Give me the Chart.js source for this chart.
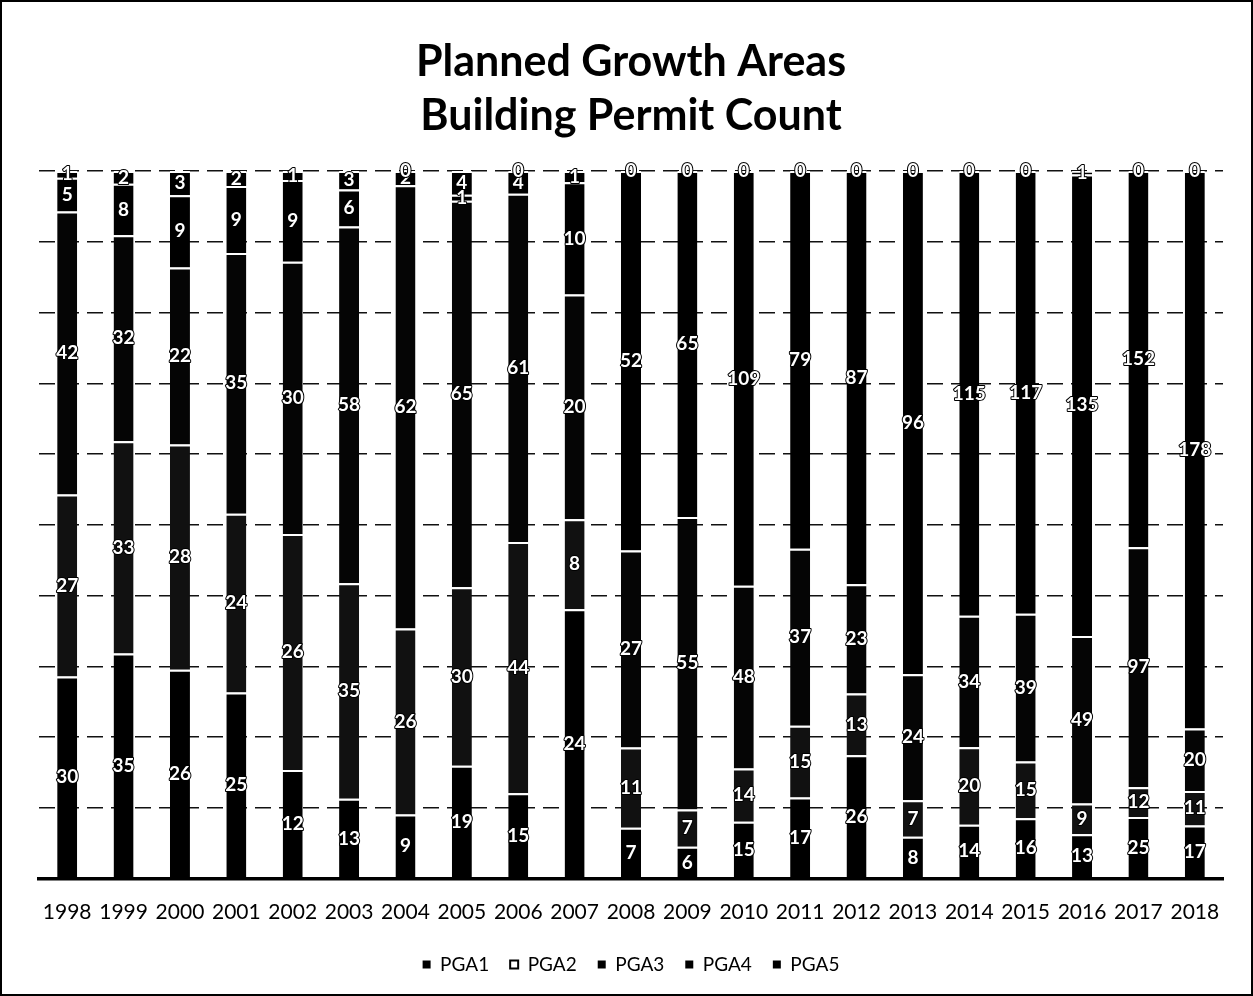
<!DOCTYPE html>
<html>
<head>
<meta charset="utf-8">
<script src="https://cdn.jsdelivr.net/npm/chart.js@4.4.1/dist/chart.umd.min.js"></script>
<style>
  html, body { margin: 0; padding: 0; background: #fff; }
  #c { display: block; }
</style>
</head>
<body>
<canvas id="c" width="1253" height="996"></canvas>
<script>
// ---- Data (building permit counts per planned growth area) ----
const years = ['1998','1999','2000','2001','2002','2003','2004','2005','2006','2007','2008',
               '2009','2010','2011','2012','2013','2014','2015','2016','2017','2018'];
const seriesNames = ['PGA1','PGA2','PGA3','PGA4','PGA5'];
const pga1 = [30, 35, 26, 25, 12, 13,  9, 19, 15, 24,  7,  6,  15, 17, 26,  8,  14,  16,  13,  25,  17];
const pga2 = [27, 33, 28, 24, 26, 35, 26, 30, 44,  8, 11,  7,  14, 15, 13,  7,  20,  15,   9,  12,  11];
const pga3 = [42, 32, 22, 35, 30, 58, 62, 65, 61, 20, 27, 55,  48, 37, 23, 24,  34,  39,  49,  97,  20];
const pga4 = [ 5,  8,  9,  9,  9,  6,  2,  1,  4, 10, 52, 65, 109, 79, 87, 96, 115, 117, 135, 152, 178];
const pga5 = [ 1,  2,  3,  2,  1,  3,  0,  4,  0,  1,  0,  0,   0,  0,  0,  0,   0,   0,   1,   0,   0];

const rawSeries = [pga1, pga2, pga3, pga4, pga5];
const totals = years.map((_, j) => rawSeries.reduce((s, arr) => s + arr[j], 0));
const pctSeries = rawSeries.map(arr => arr.map((v, j) => v / totals[j] * 100));

const fills = ['#000000', '#111111', '#050505', '#000000', '#000000'];
const FONT = 'Lato, "Open Sans", sans-serif';

const datasets = seriesNames.map((name, i) => ({
  label: name,
  data: pctSeries[i],
  rawValues: rawSeries[i],
  backgroundColor: fills[i],
  borderColor: '#ffffff',
  borderWidth: { top: 2, right: 0, bottom: 0, left: 0 },
  borderSkipped: false,
  barPercentage: 0.355,
  categoryPercentage: 1.0
}));

const valueLabels = {
  id: 'valueLabels',
  afterDatasetsDraw(chart) {
    const ctx = chart.ctx;
    ctx.save();
    ctx.font = 'bold 19px ' + FONT;
    ctx.textAlign = 'center';
    ctx.textBaseline = 'middle';
    ctx.lineJoin = 'round';
    chart.data.datasets.forEach((ds, i) => {
      const meta = chart.getDatasetMeta(i);
      meta.data.forEach((el, j) => {
        const txt = String(ds.rawValues[j]);
        const y = (el.y + el.base) / 2;
        ctx.lineWidth = 2;
        ctx.strokeStyle = '#000';
        ctx.strokeText(txt, el.x, y);
        ctx.fillStyle = '#fff';
        ctx.fillText(txt, el.x, y);
      });
    });
    ctx.restore();
  }
};

const frame = {
  id: 'frame',
  beforeDraw(chart) {
    const ctx = chart.ctx;
    ctx.save();
    ctx.fillStyle = '#fff';
    ctx.fillRect(0, 0, chart.width, chart.height);
    ctx.restore();
  },
  afterDraw(chart) {
    const ctx = chart.ctx;
    ctx.save();
    ctx.strokeStyle = '#000';
    ctx.lineWidth = 2;
    ctx.strokeRect(1, 1, chart.width - 2, chart.height - 2);
    ctx.restore();
  }
};

new Chart(document.getElementById('c'), {
  type: 'bar',
  data: { labels: years, datasets: datasets },
  options: {
    responsive: false,
    animation: false,
    devicePixelRatio: 1,
    layout: { padding: { top: 0, left: 39, right: 30, bottom: 12 } },
    plugins: {
      tooltip: { enabled: false },
      title: {
        display: true,
        text: ['Planned Growth Areas', 'Building Permit Count'],
        color: '#000',
        font: { family: FONT, size: 43, weight: 'bold', lineHeight: '54px' },
        padding: { top: 35, bottom: 28 }
      },
      legend: {
        position: 'bottom',
        labels: {
          color: '#000',
          font: { family: FONT, size: 19 },
          boxWidth: 8,
          boxHeight: 8,
          padding: 21,
          generateLabels(chart) {
            return Chart.defaults.plugins.legend.labels.generateLabels(chart).map((l, i) => {
              if (i === 1) {
                return Object.assign({}, l, { fillStyle: '#fff', strokeStyle: '#000', lineWidth: 2 });
              }
              return Object.assign({}, l, { fillStyle: '#000', strokeStyle: '#000', lineWidth: 0 });
            });
          }
        }
      }
    },
    scales: {
      x: {
        stacked: true,
        grid: { display: false, drawTicks: false },
        border: { display: true, color: '#000', width: 3.5 },
        ticks: {
          color: '#000',
          font: { family: FONT, size: 21 },
          padding: 21,
          maxRotation: 0,
          autoSkip: false
        },
        afterFit(scale) { scale.height -= 12; }
      },
      y: {
        stacked: true,
        min: 0,
        max: 100,
        ticks: { display: false, stepSize: 10 },
        grid: { color: '#111', lineWidth: 1.5, drawTicks: false },
        border: { display: false, dash: [16, 8] }
      }
    }
  },
  plugins: [valueLabels, frame]
});
</script>
</body>
</html>
